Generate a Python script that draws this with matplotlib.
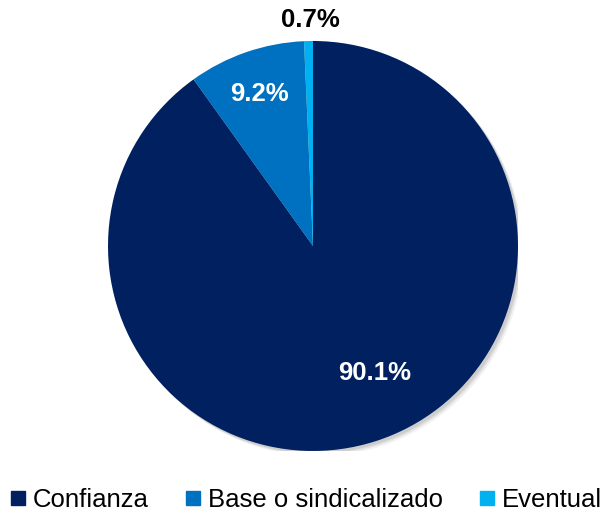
import matplotlib.pyplot as plt
from matplotlib.lines import Line2D
from matplotlib.patches import Circle

plt.rcParams['font.family'] = ['Liberation Sans', 'DejaVu Sans']

# Data
categories = ['Confianza', 'Base o sindicalizado', 'Eventual']
shares = [90.1, 9.2, 0.7]
colors = ['#002060', '#0070C0', '#00B0F0']

fig = plt.figure(figsize=(6.06, 5.13), dpi=100)
ax = fig.add_axes([0.1782, 0.1209, 0.6766, 0.7992])

# soft shadow behind the pie
for off, a in [(0.025, 0.10), (0.018, 0.15), (0.012, 0.2)]:
    ax.add_patch(Circle((off, -off), 1.0, color='#808080', alpha=a, lw=0, zorder=0))

wedges, _ = ax.pie(shares, colors=colors, startangle=90, counterclock=False,
                   radius=1.0, wedgeprops=dict(linewidth=0))
for w in wedges:
    w.set_zorder(2)

# value labels
label_pos = [(0.30, -0.62), (-0.26, 0.74), (-0.015, 1.10)]
label_colors = ['white', 'white', 'black']
for val, (x, y), c in zip(shares, label_pos, label_colors):
    ax.text(x, y, f'{val:.1f}%', ha='center', va='center', color=c,
            fontsize=18.5, fontweight='bold', zorder=3)

ax.set_xlim(-1, 1)
ax.set_ylim(-1, 1)
ax.set_aspect('equal')
ax.axis('off')

handles = [Line2D([], [], marker='s', linestyle='', markersize=9.5,
                  markerfacecolor=c, markeredgecolor=c) for c in colors]
fig.legend(handles, categories, loc='center', bbox_to_anchor=(0.505, 0.026),
           ncol=3, frameon=False, fontsize=18.5, handlelength=0.6,
           handletextpad=0.3, columnspacing=1.4, borderaxespad=0)

fig.savefig('out.png', dpi=100)
